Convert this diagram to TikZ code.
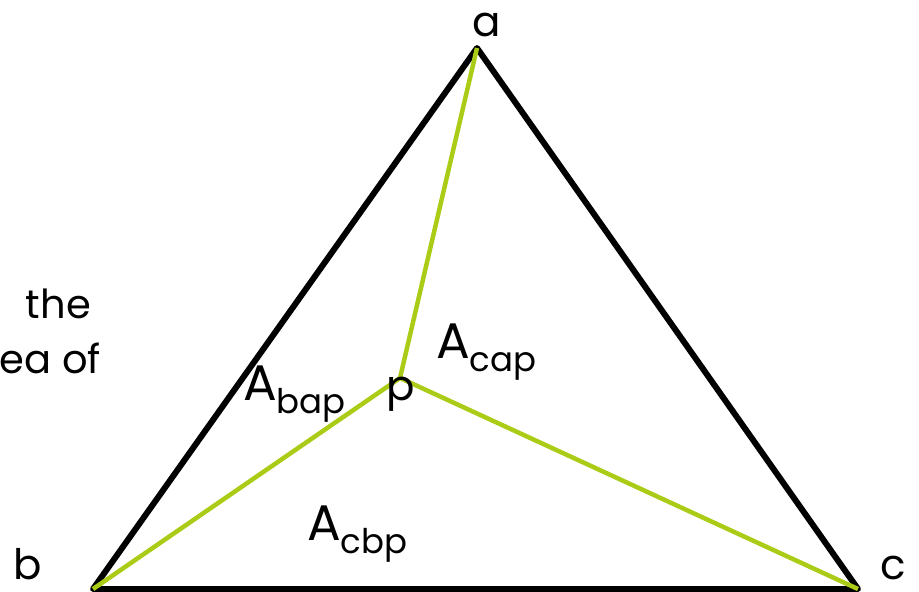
\documentclass[tikz,border=0pt]{standalone}
\usepackage{fontspec}
\setmainfont{Poppins}
\definecolor{lime}{RGB}{170,204,22}
\begin{document}
\begin{tikzpicture}[x=1pt,y=-1pt,
  edge/.style={line width=6pt,black,line join=round},
  spoke/.style={line width=4.5pt,lime},
  lbl/.style={inner sep=0pt,font=\fontsize{42}{46}\selectfont},
  area/.style={inner sep=0pt,anchor=base west,font=\fontsize{50}{54}\selectfont}]
\newcommand{\Asb}[1]{A\raisebox{-13pt}{\fontsize{34}{36}\selectfont #1}}
\useasboundingbox (0,0) rectangle (919,592);
\clip (0,0) rectangle (919,592);
\coordinate (a) at (477,48);
\coordinate (b) at (93,589);
\coordinate (c) at (858,589);
\coordinate (p) at (400,378);
\draw[edge] (a) -- (b) -- (c) -- cycle;
\draw[spoke] (p) -- (a);
\draw[spoke] (p) -- (b);
\draw[spoke] (p) -- (c);
\node[lbl,anchor=base] (la) at (487,36) {a};
\node[lbl,anchor=base] (lb) at (28,579) {b};
\node[lbl,anchor=base] (lc) at (893,579) {c};
\node[lbl,anchor=base] (lp) at (401,400) {p};
\node[area] (acap) at (436,358) {\Asb{cap}};
\node[area] (abap) at (243,400) {\Asb{bap}};
\node[area] (acbp) at (307,540) {\Asb{cbp}};
\node[lbl,anchor=base east,font=\fontsize{40}{44}\selectfont] (t1) at (91,318) {the};
\node[lbl,anchor=base east,font=\fontsize{40}{44}\selectfont] (t2) at (101,373) {Area of};
\end{tikzpicture}
\end{document}
